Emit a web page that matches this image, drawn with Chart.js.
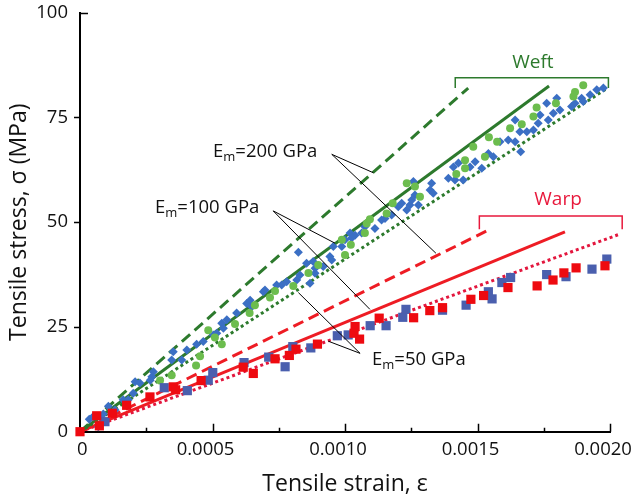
<!DOCTYPE html>
<html>
<head>
<meta charset="utf-8">
<script src="https://cdn.jsdelivr.net/npm/chart.js@4"></script>
<style>
html,body{margin:0;padding:0;background:#fff;}
#wrap{width:631px;height:503px;}
</style>
</head>
<body>
<div id="wrap"><canvas id="c" width="631" height="503"></canvas></div>
<script>
// ---------- data (strain, stress MPa) ----------
const weftDiamondX = [0.035,0.069,0.050,0.075,0.088,0.107,0.132,0.163,0.182,0.201,0.208,0.226,0.271,0.265,0.277,0.346,0.352,0.384,0.403,0.440,0.465,0.503,0.516,0.535,0.541,0.554,0.591,0.629,0.642,0.648,0.692,0.698,0.742,0.761,0.780,0.818,0.824,0.830,0.855,0.868,0.880,0.887,0.887,0.918,0.943,0.950,0.956,0.988,1.000,1.019,1.038,1.025,1.063,1.075,1.113,1.138,1.151,1.176,1.201,1.214,1.233,1.245,1.252,1.258,1.264,1.277,1.321,1.333,1.327,1.390,1.409,1.415,1.428,1.446,1.472,1.491,1.516,1.541,1.560,1.585,1.616,1.642,1.642,1.660,1.663,1.686,1.711,1.729,1.736,1.761,1.767,1.786,1.799,1.811,1.855,1.868,1.893,1.899,1.925,1.950,1.975].map(v => v * 1e-3);
const weftDiamondY = [3.0,1.2,3.6,3.6,4.2,6.1,5.2,7.6,7.6,9.2,11.9,11.6,13.1,12.3,14.3,17.1,19.1,17.1,19.5,20.9,21.5,23.1,23.5,25.9,24.7,26.7,28.3,30.6,31.4,29.8,33.4,33.8,35.0,35.0,35.8,36.2,42.8,37.4,40.2,35.4,40.6,37.8,39.0,39.4,41.8,41.0,44.2,44.2,45.8,47.4,46.9,46.2,47.4,48.9,48.5,50.5,50.9,51.7,53.7,54.5,52.9,54.1,55.3,59.7,56.5,54.1,57.7,56.9,59.3,60.5,63.2,60.1,64.1,60.1,63.2,64.4,62.9,66.4,65.6,69.2,69.6,69.2,74.4,71.6,66.8,71.6,72.0,73.6,75.6,78.4,74.4,76.0,79.6,76.8,77.6,78.4,79.6,78.8,80.4,81.6,82.0];

const weftCircleX = [0,0.302,0.346,0.438,0.453,0.484,0.509,0.535,0.585,0.640,0.660,0.717,0.736,0.805,0.862,0.899,0.988,1.000,1.022,1.075,1.082,1.094,1.157,1.180,1.233,1.264,1.283,1.420,1.453,1.453,1.484,1.528,1.543,1.574,1.623,1.667,1.711,1.723,1.796,1.862,1.868,1.899].map(v => v * 1e-3);
const weftCircleY = [0,12.2,13.5,15.8,18.0,24.2,22.5,20.9,25.7,28.3,30.2,32.0,33.6,34.8,37.9,39.8,45.8,42.2,44.6,47.4,49.7,50.7,52.1,54.5,59.3,58.5,56.1,61.5,64.8,62.9,68.0,65.6,70.3,69.2,72.4,73.4,75.2,77.4,78.4,80.0,81.1,82.7];

const warpRedX = [0,0.063,0.073,0.122,0.176,0.264,0.352,0.361,0.457,0.616,0.654,0.736,0.790,0.815,0.896,1.034,1.038,1.055,1.129,1.259,1.320,1.368,1.475,1.523,1.615,1.725,1.785,1.826,1.872,1.981].map(v => v * 1e-3);
const warpRedY = [0,3.8,1.4,4.4,6.3,8.3,10.7,10.0,12.2,15.4,13.9,17.4,18.2,19.7,20.9,23.5,25.1,22.1,27.1,27.2,28.9,29.6,31.6,32.5,34.4,34.8,36.2,37.9,39.1,39.6];

const warpBlueX = [0.094,0.318,0.405,0.484,0.501,0.619,0.712,0.774,0.803,0.871,0.971,1.012,1.095,1.155,1.218,1.230,1.368,1.457,1.541,1.555,1.592,1.625,1.761,1.834,1.932,1.988].map(v => v * 1e-3);
const warpBlueY = [2.4,10.5,9.8,12.3,14.1,16.5,17.8,15.5,20.3,20.0,22.9,23.1,25.3,25.3,27.3,29.2,29.0,30.2,33.4,31.7,35.6,36.8,37.5,37.0,38.8,41.2];

// model lines: [end strain, end stress] (all start at origin)
const weft200 = [0.001465, 82.0];
const weft100 = [0.00177, 82.5];
const weft50  = [0.00199, 82.0];
const warp200 = [0.001547, 48.3];
const warp100 = [0.00183, 47.7];
const warp50  = [0.00203, 47.0];

const xTicks = [0, 0.0005, 0.0010, 0.0015, 0.0020];
const yTicks = [0, 25, 50, 75, 100];

// ---------- helpers ----------
const pts = (xs, ys) => xs.map((x, i) => ({x: x, y: ys[i]}));
const seg = e => [{x: 0, y: 0}, {x: e[0], y: e[1]}];
const FONT = "'Open Sans', 'Noto Sans', sans-serif";
const DKGREEN = '#2d7a2d';
const RED = '#ee1c24';
const REDDOT = '#e3173e';

function lineDS(e, color, dash) {
  return {type: 'scatter', data: seg(e), showLine: true, borderColor: color, backgroundColor: color,
    borderWidth: 3, borderDash: dash, borderCapStyle: 'butt', pointRadius: 0, clip: false};
}

// annotations in data coordinates
const annText = [
  {label: '200 GPa', x: 0.502e-3, y: 65.6},
  {label: '100 GPa', x: 0.283e-3, y: 52.1},
  {label: '50 GPa',  x: 1.102e-3, y: 15.9}
];
const leaders = [
  {from: [0.950e-3, 66.2], to: [[1.107e-3, 61.8], [1.343e-3, 42.6]]},
  {from: [0.729e-3, 52.7], to: [[0.962e-3, 45.0], [1.094e-3, 29.2]]},
  {from: [1.057e-3, 18.7], to: [[0.824e-3, 33.2], [0.937e-3, 21.6]]}
];
const brackets = [
  {text: 'Weft', color: DKGREEN, x0: 1.416e-3, x1: 1.994e-3, yTop: 84.5, yBot: 82.0, tx: 1.709e-3, ty: 86.8},
  {text: 'Warp', color: '#e8193c', x0: 1.507e-3, x1: 2.046e-3, yTop: 51.5, yBot: 48.3, tx: 1.804e-3, ty: 54.1}
];

const annotPlugin = {
  id: 'annot',
  afterDatasetsDraw(chart) {
    const ctx = chart.ctx;
    const xs = chart.scales.x, ys = chart.scales.y;
    const px = v => xs.getPixelForValue(v), py = v => ys.getPixelForValue(v);
    const area = chart.chartArea;
    ctx.save();
    // axis ticks
    ctx.strokeStyle = '#000';
    ctx.lineWidth = 1.5;
    ctx.beginPath();
    for (let v = 0.0005; v <= 0.00201; v += 0.0005) {
      const X = Math.round(px(v)) + 0.5;
      ctx.moveTo(X, area.bottom); ctx.lineTo(X, area.bottom - 8);
    }
    for (let v = 0.00025; v < 0.002; v += 0.0005) {
      const X = Math.round(px(v)) + 0.5;
      ctx.moveTo(X, area.bottom); ctx.lineTo(X, area.bottom - 4);
    }
    yTicks.forEach(v => {
      if (v === 0) return;
      const Y = Math.round(py(v)) + 0.5;
      if (v === 100) { ctx.moveTo(area.left, Y); ctx.lineTo(area.left + 8, Y); }
      else { ctx.moveTo(area.left, Y); ctx.lineTo(area.left - 6, Y); }
    });
    ctx.stroke();
    // leader lines
    ctx.lineWidth = 1;
    ctx.strokeStyle = '#000';
    leaders.forEach(l => {
      ctx.beginPath();
      l.to.forEach(t => {
        ctx.moveTo(px(l.from[0]), py(l.from[1]));
        ctx.lineTo(px(t[0]), py(t[1]));
      });
      ctx.stroke();
    });
    // labels E_m=...
    ctx.fillStyle = '#111';
    ctx.textBaseline = 'alphabetic';
    ctx.textAlign = 'left';
    annText.forEach(a => {
      let X = px(a.x); const Y = py(a.y);
      ctx.font = '18.5px ' + FONT;
      ctx.fillText('E', X, Y); X += ctx.measureText('E').width;
      ctx.font = '13px ' + FONT;
      ctx.fillText('m', X, Y + 4); X += ctx.measureText('m').width;
      ctx.font = '18.5px ' + FONT;
      ctx.fillText('=' + a.label, X, Y);
    });
    // brackets
    brackets.forEach(b => {
      ctx.strokeStyle = b.color;
      ctx.lineWidth = 1.5;
      ctx.beginPath();
      ctx.moveTo(px(b.x0), py(b.yBot));
      ctx.lineTo(px(b.x0), py(b.yTop));
      ctx.lineTo(px(b.x1), py(b.yTop));
      ctx.lineTo(px(b.x1), py(b.yBot));
      ctx.stroke();
      ctx.fillStyle = b.color;
      ctx.font = '19px ' + FONT;
      ctx.textAlign = 'center';
      ctx.fillText(b.text, px(b.tx), py(b.ty));
    });
    ctx.restore();
  }
};

new Chart(document.getElementById('c'), {
  type: 'scatter',
  data: {
    datasets: [
      {data: pts(warpRedX, warpRedY), pointStyle: 'rect', pointRadius: 6.5, backgroundColor: '#ee0a10', borderWidth: 0, clip: false},
      {data: pts(warpBlueX, warpBlueY), pointStyle: 'rect', pointRadius: 6.5, backgroundColor: '#4a5fae', borderWidth: 0, clip: false},
      {data: pts(weftCircleX, weftCircleY), pointStyle: 'circle', pointRadius: 4, backgroundColor: '#6cbd4e', borderWidth: 0, clip: false},
      {data: pts(weftDiamondX, weftDiamondY), pointStyle: 'rectRot', pointRadius: 4.5, backgroundColor: '#3b6fc4', borderWidth: 0, clip: false},
      lineDS(weft200, DKGREEN, [11, 6]),
      lineDS(weft100, DKGREEN, []),
      lineDS(weft50, DKGREEN, [3, 3]),
      lineDS(warp200, RED, [11, 6]),
      lineDS(warp100, RED, []),
      lineDS(warp50, REDDOT, [3, 3])
    ]
  },
  options: {
    responsive: false,
    animation: false,
    devicePixelRatio: 1,
    layout: {padding: {left: 0, right: 21, top: 12.7, bottom: 0}},
    plugins: {legend: {display: false}, tooltip: {enabled: false}},
    scales: {
      x: {
        type: 'linear', min: 0, max: 0.002,
        afterBuildTicks: s => { s.ticks = xTicks.map(v => ({value: v})); },
        afterFit: s => { s.height = 503 - 431.7; s.paddingLeft = 0; s.paddingRight = 0; },
        grid: {display: false, drawTicks: false},
        border: {display: true, color: '#000', width: 2},
        ticks: {
          padding: 7, color: '#111', font: {family: FONT, size: 18.5},
          maxRotation: 0, autoSkip: false, labelOffset: -7,
          callback: v => v === 0 ? '\u2002\u20020' : v.toFixed(4)
        },
        title: {display: true, text: 'Tensile strain, ε', color: '#111', font: {family: FONT, size: 23}, padding: {top: 0, bottom: 5}}
      },
      y: {
        type: 'linear', min: 0, max: 100,
        afterBuildTicks: s => { s.ticks = yTicks.map(v => ({value: v})); },
        afterFit: s => { s.width = 80; s.paddingTop = 0; s.paddingBottom = 0; },
        grid: {display: false, drawTicks: false},
        border: {display: true, color: '#000', width: 2},
        ticks: {padding: 12, color: '#111', font: {family: FONT, size: 18.5}},
        title: {display: true, text: 'Tensile stress, σ (MPa)', color: '#111', font: {family: FONT, size: 23}, padding: {top: 6, bottom: 0}}
      }
    }
  },
  plugins: [annotPlugin]
});
</script>
</body>
</html>
